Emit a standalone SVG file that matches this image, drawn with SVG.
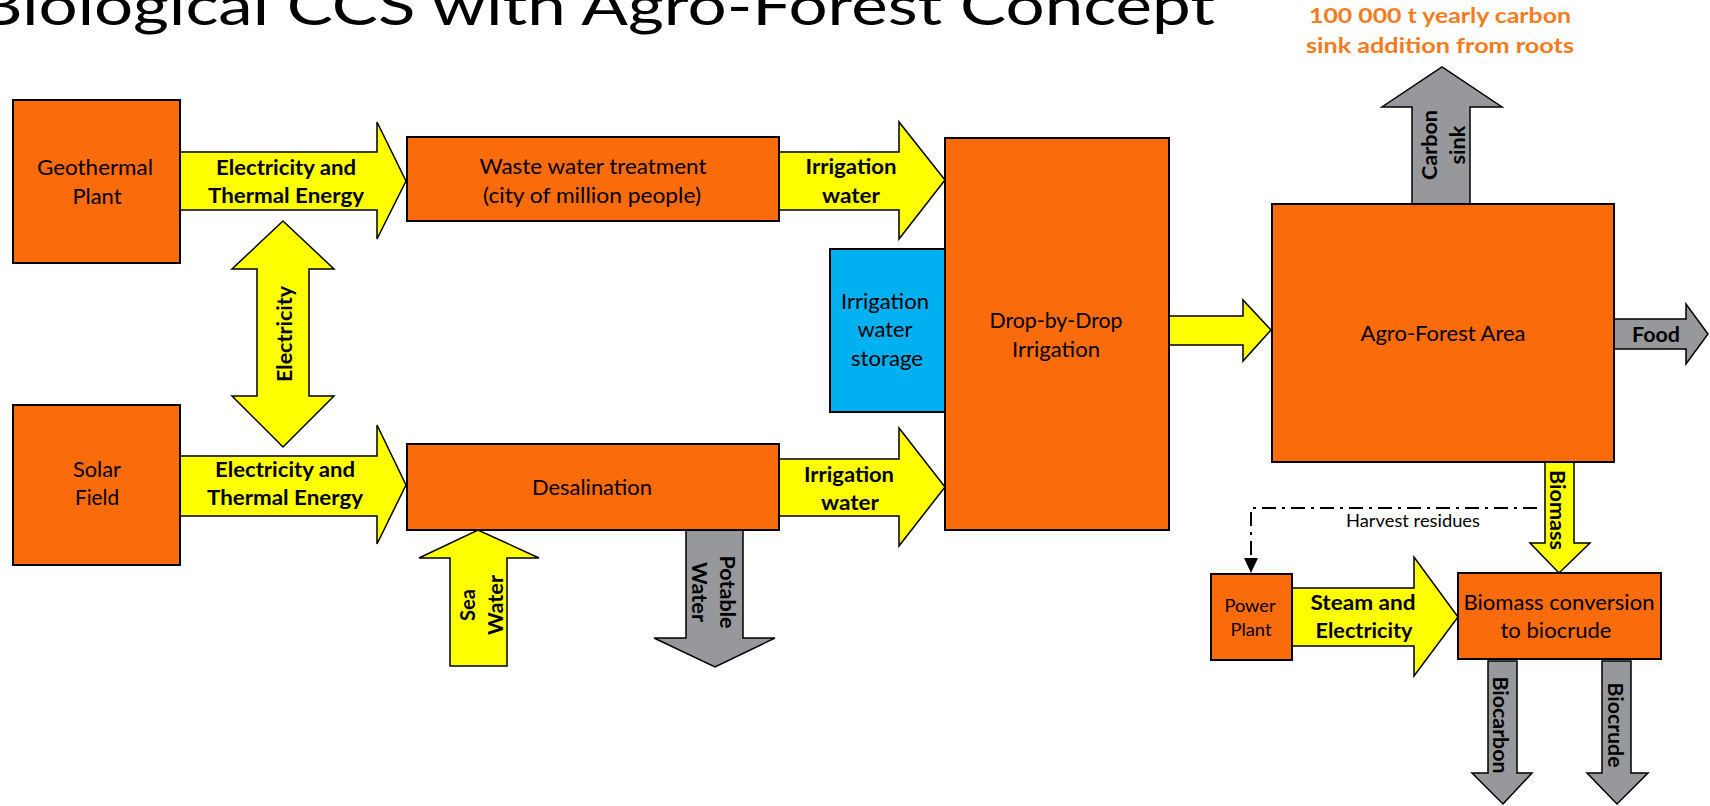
<svg xmlns="http://www.w3.org/2000/svg" width="1710" height="806" viewBox="0 0 1710 806">
<style>
.box{fill:#F96B0B;stroke:#000;stroke-width:2}
.blue{fill:#00B0F0;stroke:#000;stroke-width:2}
.ya{fill:#FFFF00;stroke:#000;stroke-width:1.5;stroke-linejoin:miter}
.ga{fill:#97989B;stroke:#000;stroke-width:1.5;stroke-linejoin:miter}
text{font-family:Lato,"Liberation Sans",sans-serif;fill:#000}
.t{font-size:21px;text-anchor:middle}
.b{font-size:21px;font-weight:bold;text-anchor:middle}
.s{font-size:17px;text-anchor:middle}
.o{font-size:21px;font-weight:bold;fill:#F47B20;text-anchor:middle}
</style>
<rect width="1710" height="806" fill="#fff"/>
<text x="-22" y="25" font-size="55" textLength="1237" lengthAdjust="spacingAndGlyphs">Biological CCS with Agro-Forest Concept</text>
<text class="o" x="1440" y="23" textLength="262" lengthAdjust="spacingAndGlyphs">100 000 t yearly carbon</text>
<text class="o" x="1440" y="53" textLength="268" lengthAdjust="spacingAndGlyphs">sink addition from roots</text>

<g id="connectors">
  <polygon class="ya" points="180,152 377,152 377,122 406,181 377,239 377,210 180,210"/>
  <text class="b" x="286" y="175" textLength="140" lengthAdjust="spacingAndGlyphs">Electricity and</text>
  <text class="b" x="286" y="203" textLength="156" lengthAdjust="spacingAndGlyphs">Thermal Energy</text>

  <polygon class="ya" points="180,456 377,456 377,425 406,485 377,544 377,516 180,516"/>
  <text class="b" x="285" y="477" textLength="140" lengthAdjust="spacingAndGlyphs">Electricity and</text>
  <text class="b" x="285" y="505" textLength="156" lengthAdjust="spacingAndGlyphs">Thermal Energy</text>

  <polygon class="ya" points="283,221 334,269 309,269 309,396 334,396 283,447 232,396 257,396 257,269 232,269"/>
  <text class="b" transform="translate(292,334) rotate(-90)" textLength="96" lengthAdjust="spacingAndGlyphs">Electricity</text>

  <polygon class="ya" points="779,152 899,152 899,122 945,180 899,239 899,210 779,210"/>
  <text class="b" x="851" y="174" textLength="91" lengthAdjust="spacingAndGlyphs">Irrigation</text>
  <text class="b" x="851" y="203" textLength="58" lengthAdjust="spacingAndGlyphs">water</text>

  <polygon class="ya" points="779,459 899,459 899,428 945,487 899,546 899,516 779,516"/>
  <text class="b" x="849" y="482" textLength="90" lengthAdjust="spacingAndGlyphs">Irrigation</text>
  <text class="b" x="850" y="510" textLength="58" lengthAdjust="spacingAndGlyphs">water</text>

  <polygon class="ya" points="450,666 450,558 419,558 478,530 539,558 507,558 507,666"/>
  <text class="b" transform="translate(475,605) rotate(-90)" textLength="32" lengthAdjust="spacingAndGlyphs">Sea</text>
  <text class="b" transform="translate(503,605) rotate(-90)" textLength="60" lengthAdjust="spacingAndGlyphs">Water</text>

  <polygon class="ga" points="686,530 743,530 743,638 775,638 715,667 654,638 686,638"/>
  <text class="b" transform="translate(720,592) rotate(90)" textLength="73" lengthAdjust="spacingAndGlyphs">Potable</text>
  <text class="b" transform="translate(692,592) rotate(90)" textLength="60" lengthAdjust="spacingAndGlyphs">Water</text>

  <polygon class="ya" points="1169,316 1243,316 1243,300 1271,330 1243,361 1243,345 1169,345"/>

  <polygon class="ga" points="1412,204 1412,107 1382,107 1442,67 1502,107 1470,107 1470,204"/>
  <text class="b" transform="translate(1437,145) rotate(-90)" textLength="70" lengthAdjust="spacingAndGlyphs">Carbon</text>
  <text class="b" transform="translate(1465,145) rotate(-90)" textLength="39" lengthAdjust="spacingAndGlyphs">sink</text>

  <polygon class="ga" points="1613,319 1686,319 1686,304 1708,334 1686,364 1686,349 1613,349"/>
  <text class="b" x="1656" y="342" textLength="48" lengthAdjust="spacingAndGlyphs">Food</text>

  <polygon class="ya" points="1545,461 1574,461 1574,543 1590,543 1559,573 1530,543 1545,543"/>
  <text class="b" transform="translate(1550,510) rotate(90)" textLength="80" lengthAdjust="spacingAndGlyphs">Biomass</text>

  <polyline points="1537,508 1251,508 1251,560" fill="none" stroke="#000" stroke-width="2" stroke-dasharray="14 6 3 6"/>
  <polygon points="1244,558 1258,558 1251,573" fill="#000"/>
  <text class="s" x="1413" y="527" textLength="134" lengthAdjust="spacingAndGlyphs">Harvest residues</text>

  <polygon class="ya" points="1292,588 1414,588 1414,557 1458,617 1414,676 1414,646 1292,646"/>
  <text class="b" x="1363" y="610" textLength="105" lengthAdjust="spacingAndGlyphs">Steam and</text>
  <text class="b" x="1364" y="638" textLength="97" lengthAdjust="spacingAndGlyphs">Electricity</text>

  <polygon class="ga" points="1488,661 1517,661 1517,773 1532,773 1503,804 1472,773 1488,773"/>
  <text class="b" transform="translate(1493,725) rotate(90)" textLength="97" lengthAdjust="spacingAndGlyphs">Biocarbon</text>

  <polygon class="ga" points="1602,661 1631,661 1631,773 1648,773 1617,804 1587,773 1602,773"/>
  <text class="b" transform="translate(1608,725) rotate(90)" textLength="85" lengthAdjust="spacingAndGlyphs">Biocrude</text>
</g>

<g id="geothermal">
  <rect class="box" x="13" y="100" width="167" height="163"/>
  <text class="t" x="95" y="175" textLength="116" lengthAdjust="spacingAndGlyphs">Geothermal</text>
  <text class="t" x="97" y="204" textLength="49" lengthAdjust="spacingAndGlyphs">Plant</text>
</g>
<g id="solar">
  <rect class="box" x="13" y="405" width="167" height="160"/>
  <text class="t" x="97" y="477" textLength="48" lengthAdjust="spacingAndGlyphs">Solar</text>
  <text class="t" x="97" y="505" textLength="44" lengthAdjust="spacingAndGlyphs">Field</text>
</g>
<g id="wastewater">
  <rect class="box" x="407" y="137" width="372" height="84"/>
  <text class="t" x="593" y="174" textLength="227" lengthAdjust="spacingAndGlyphs">Waste water treatment</text>
  <text class="t" x="592" y="203" textLength="218" lengthAdjust="spacingAndGlyphs">(city of million people)</text>
</g>
<g id="desalination">
  <rect class="box" x="407" y="444" width="372" height="86"/>
  <text class="t" x="592" y="495" textLength="120" lengthAdjust="spacingAndGlyphs">Desalination</text>
</g>
<g id="storage">
  <rect class="blue" x="830" y="249" width="115" height="163"/>
  <text class="t" x="885" y="309" textLength="88" lengthAdjust="spacingAndGlyphs">Irrigation</text>
  <text class="t" x="885" y="337" textLength="55" lengthAdjust="spacingAndGlyphs">water</text>
  <text class="t" x="887" y="366" textLength="72" lengthAdjust="spacingAndGlyphs">storage</text>
</g>
<g id="dripirrigation">
  <rect class="box" x="945" y="138" width="224" height="392"/>
  <text class="t" x="1056" y="328" textLength="133" lengthAdjust="spacingAndGlyphs">Drop-by-Drop</text>
  <text class="t" x="1056" y="357" textLength="88" lengthAdjust="spacingAndGlyphs">Irrigation</text>
</g>
<g id="agroforest">
  <rect class="box" x="1272" y="204" width="342" height="258"/>
  <text class="t" x="1443" y="341" textLength="165" lengthAdjust="spacingAndGlyphs">Agro-Forest Area</text>
</g>
<g id="powerplant">
  <rect class="box" x="1211" y="574" width="81" height="86"/>
  <text class="s" x="1250" y="612" textLength="51" lengthAdjust="spacingAndGlyphs">Power</text>
  <text class="s" x="1251" y="636" textLength="41" lengthAdjust="spacingAndGlyphs">Plant</text>
</g>
<g id="conversion">
  <rect class="box" x="1458" y="573" width="203" height="86"/>
  <text class="t" x="1559" y="610" textLength="191" lengthAdjust="spacingAndGlyphs">Biomass conversion</text>
  <text class="t" x="1556" y="638" textLength="111" lengthAdjust="spacingAndGlyphs">to biocrude</text>
</g>
</svg>
